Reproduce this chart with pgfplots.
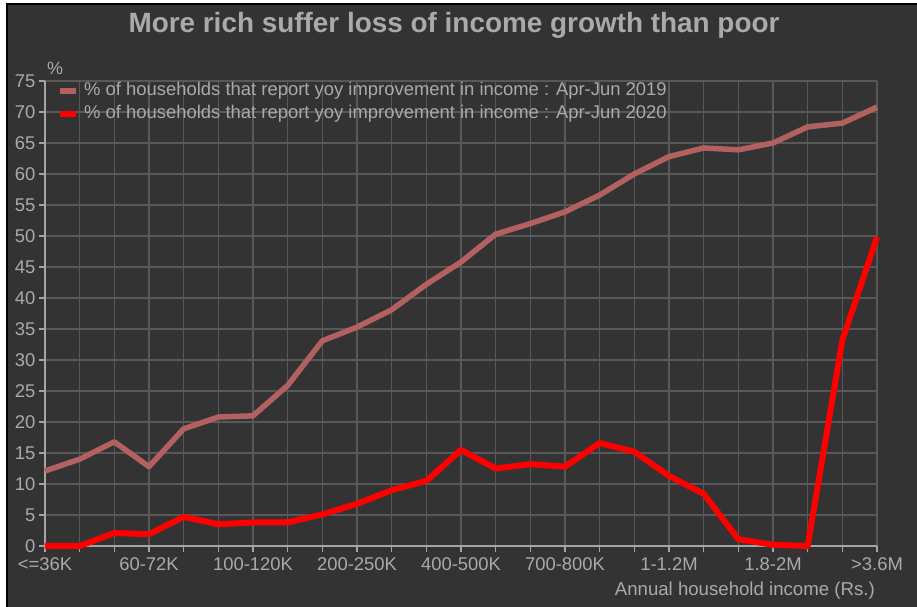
\documentclass[border=0pt]{standalone}
\usepackage{pgfplots}
\pgfplotsset{compat=1.18}
\usepackage{fontspec}
\setmainfont{Liberation Sans}
\definecolor{bg}{RGB}{51,51,51}
\definecolor{gridc}{RGB}{88,88,88}
\definecolor{txt}{RGB}{170,170,170}
\definecolor{axc}{RGB}{165,165,165}
\definecolor{s19}{RGB}{178,96,96}
\definecolor{s20}{RGB}{255,0,0}
\begin{document}
\begin{tikzpicture}[x=1bp,y=1bp]
\useasboundingbox (-45,-61) rectangle (872,546);
\fill[white] (-45,-61) rectangle (872,546);
\fill[bg] (-38,-61) rectangle (872,542);
\draw[black, line width=1.5bp] (-38,-61) -- (-38,542) -- (872,542);
\node[font=\bfseries\fontsize{28}{30}\selectfont, text=txt] at (409,521) {More rich suffer loss of income growth than poor};
\node[font=\fontsize{18}{20}\selectfont, text=txt] at (10,478) {\%};
\node[font=\fontsize{18.7}{21}\selectfont, text=txt, anchor=east, inner sep=0pt] at (830,-45) {Annual household income (Rs.)};
\begin{axis}[
  at={(0,0)}, anchor=south west,
  scale only axis, width=832bp, height=465bp,
  xmin=0, xmax=24, ymin=0, ymax=75,
  axis x line*=bottom, axis y line*=left,
  axis line style={axc, line width=1.2bp},
  xtick={0,3,...,24},
  minor xtick={1,2,4,5,7,8,10,11,13,14,16,17,19,20,22,23},
  xticklabels={{<=36K},{60-72K},{100-120K},{200-250K},{400-500K},{700-800K},{1-1.2M},{1.8-2M},{>3.6M}},
  ytick={0,5,...,75},
  grid=both,
  grid style={gridc, line width=1.2bp},
  minor grid style={gridc, line width=1.2bp},
  tick style={axc, line width=1.2bp},
  minor tick style={axc, line width=1.2bp},
  tick align=outside,
  major tick length=6bp, minor tick length=6bp,
  ticklabel style={font=\fontsize{18.5}{20}\selectfont, text=txt},
  xticklabel style={yshift=-2bp},
  /pgf/number format/assume math mode=true,
  clip=false,
  legend style={at={(0,1)}, anchor=north west, xshift=15bp, yshift=-1bp,
    draw=none, fill=none, font=\fontsize{18.5}{20}\selectfont, text=txt,
    inner sep=0pt, row sep=6bp, cells={anchor=west},
    nodes={inner sep=0pt, text height=13bp, text depth=4bp},
    /tikz/every odd column/.append style={column sep=8bp}},
  legend image code/.code={\fill[#1, draw=none] (0bp,-3bp) rectangle (16bp,3bp);},
]
\addplot[color=s19, line width=5.5bp, line join=round] coordinates {
(0,12.1) (1,14.0) (2,16.8) (3,12.8) (4,18.9) (5,20.8) (6,21.0) (7,25.9) (8,33.1) (9,35.3) (10,38.1) (11,42.2) (12,45.8) (13,50.3) (14,52.0) (15,53.9) (16,56.6) (17,60.0) (18,62.8) (19,64.2) (20,63.9) (21,65.0) (22,67.6) (23,68.2) (24,70.8)};
\addlegendentry{\% of households that report yoy improvement in income : Apr-Jun 2019}
\addplot[color=s20, line width=6bp, line join=round] coordinates {
(0,0) (1,0) (2,2.1) (3,1.9) (4,4.7) (5,3.5) (6,3.8) (7,3.8) (8,5.1) (9,6.8) (10,9.0) (11,10.5) (12,15.5) (13,12.5) (14,13.2) (15,12.8) (16,16.6) (17,15.2) (18,11.3) (19,8.4) (20,1.1) (21,0.2) (22,0) (23,33.2) (24,49.8)};
\addlegendentry{\% of households that report yoy improvement in income : Apr-Jun 2020}
\end{axis}
\end{tikzpicture}
\end{document}
